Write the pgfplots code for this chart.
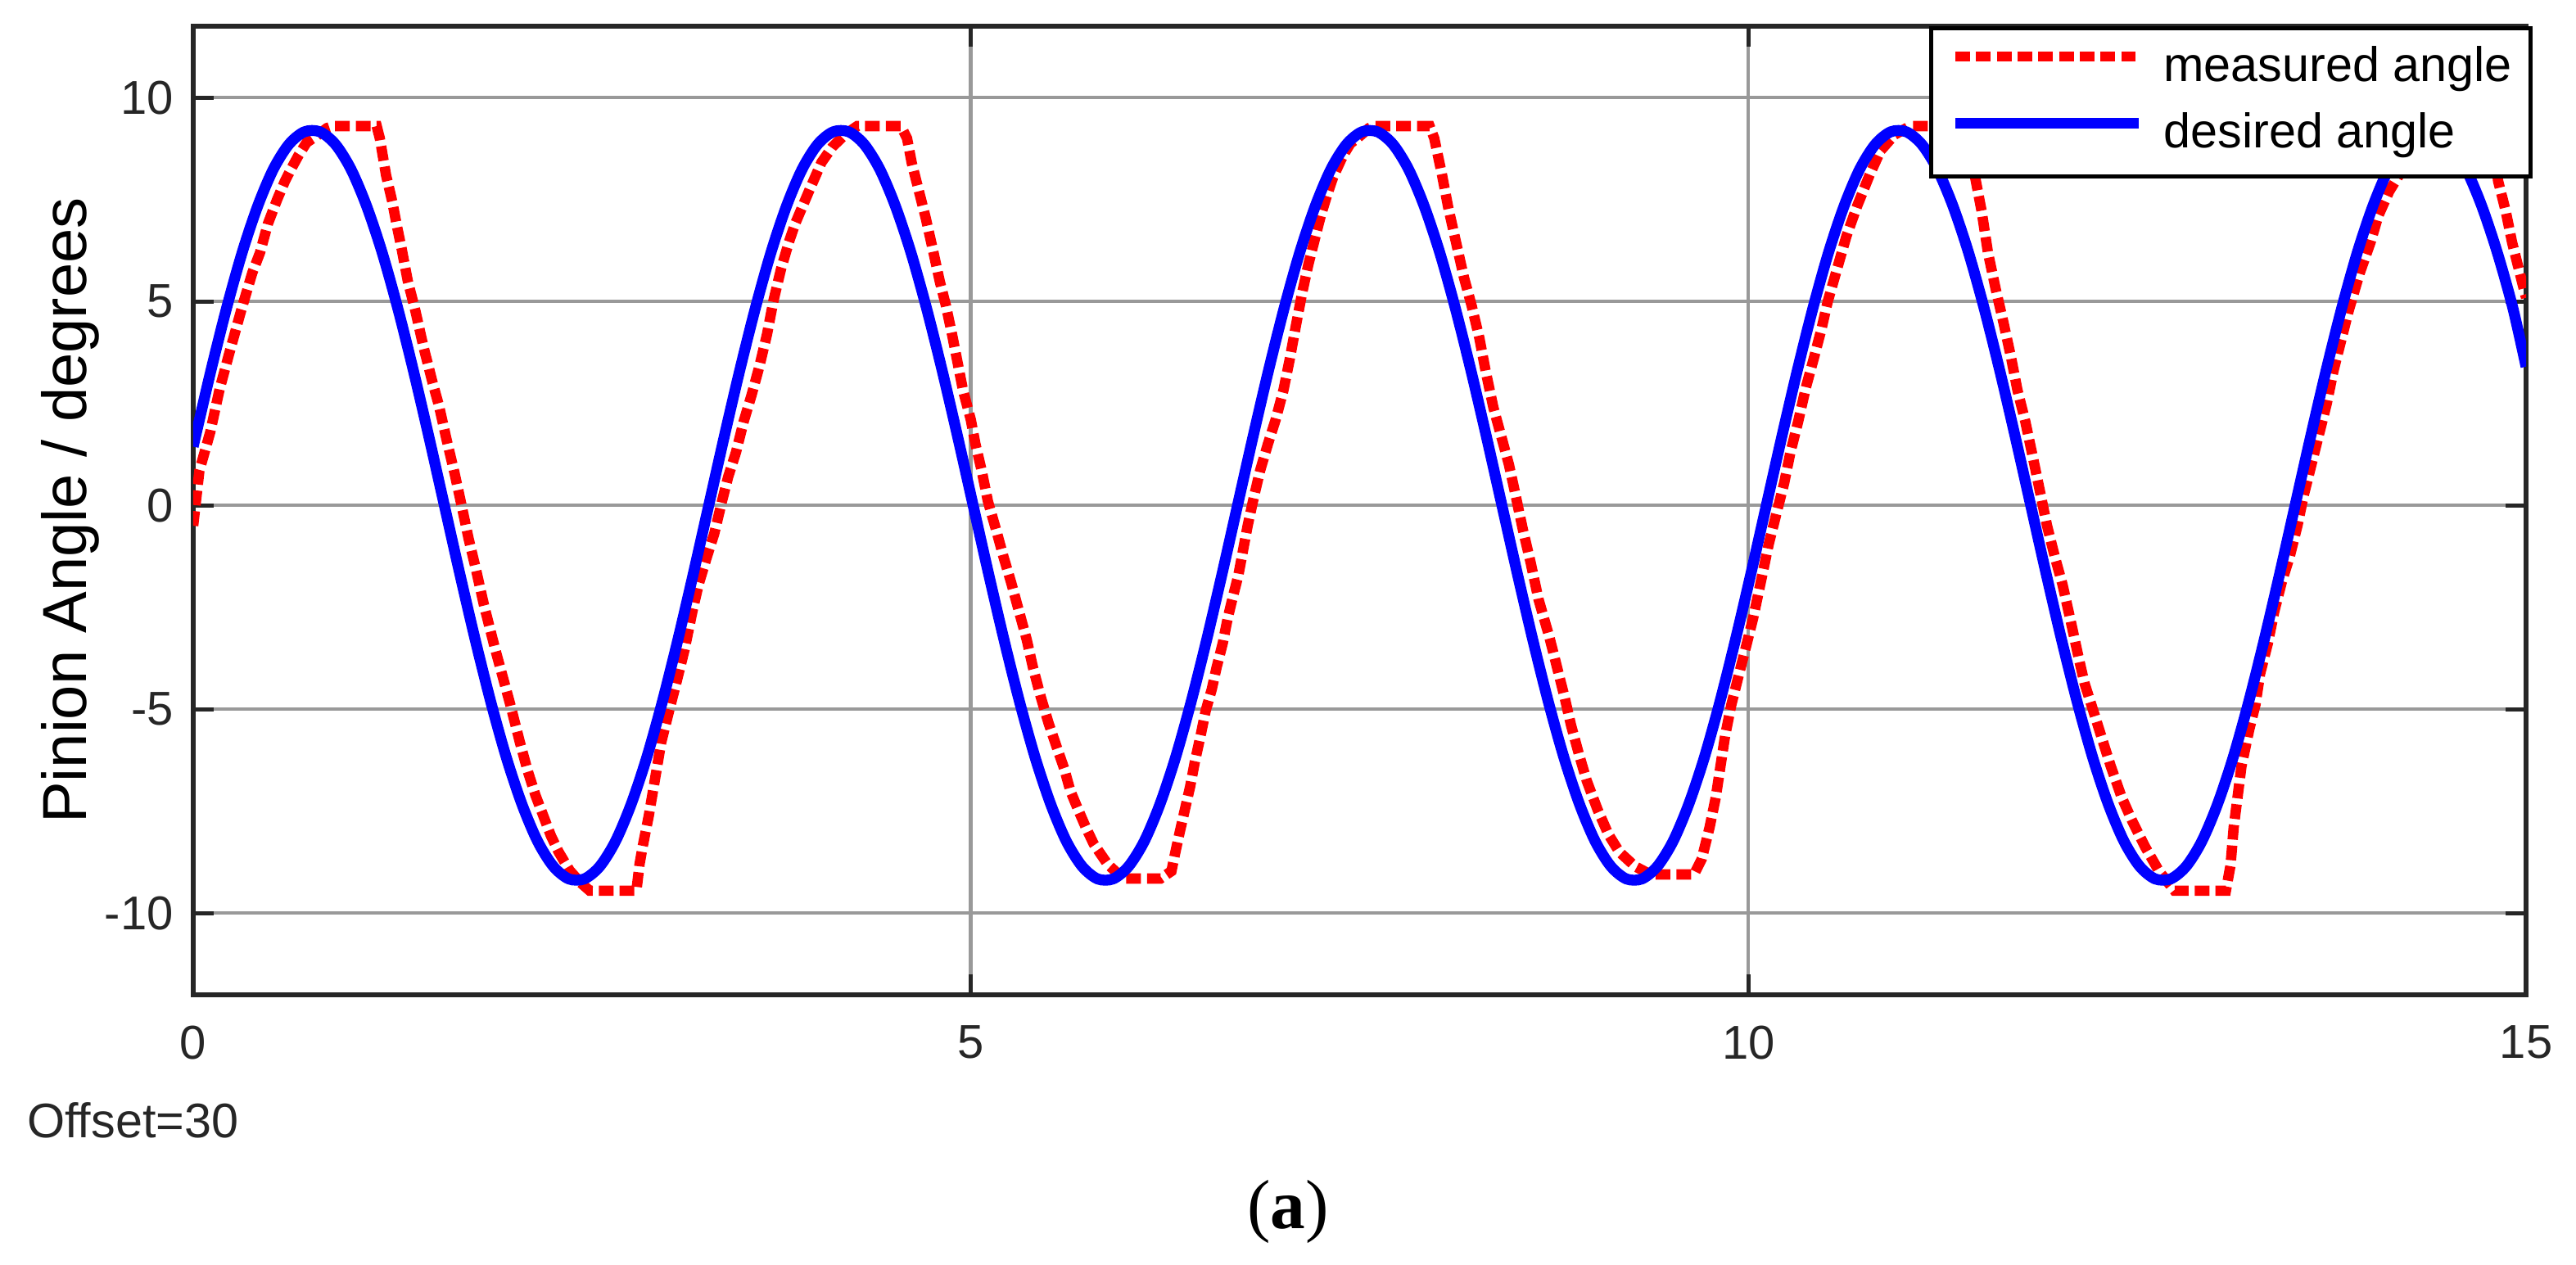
\documentclass[border=0pt]{standalone}
\usepackage{fontspec}
\setmainfont{Liberation Sans}
\newfontfamily\seriffont{Liberation Serif}
\usepackage{pgfplots}
\pgfplotsset{compat=1.18}
\definecolor{gridgray}{RGB}{153,153,153}
\definecolor{axdark}{RGB}{38,38,38}
\definecolor{mred}{RGB}{255,0,0}
\definecolor{mblue}{RGB}{0,0,255}
\begin{document}
\begin{tikzpicture}
\useasboundingbox (-35.4pt,-49.4pt) rectangle (436.65pt,182.3pt);
\begin{axis}[
  at={(0pt,0pt)}, anchor=south west,
  scale only axis, width=427.5pt, height=177.5pt,
  xmin=0, xmax=15, ymin=-12, ymax=11.75,
  xtick={0,5,10,15}, xticklabels={0,5,10,15},
  ytick={-10,-5,0,5,10}, yticklabels={-10,-5,0,5,10},
  xtick pos=both, ytick pos=both,
  xticklabel pos=lower, yticklabel pos=left,
  tick align=inside, major tick length=3.75pt,
  grid=major,
  major grid style={color=gridgray, line width=0.65pt},
  axis line style={color=axdark, line width=0.9pt},
  tick style={color=axdark, line width=0.75pt},
  tick label style={font=\fontsize{8.7}{10}\selectfont, text=axdark, inner sep=0pt},
  xticklabel style={yshift=-5.5pt},
  yticklabel style={xshift=-3.45pt},
  ylabel={Pinion Angle / degrees},
  every axis y label/.style={at={(axis description cs:-0.0526,0.5)}, rotate=90, anchor=center, font=\fontsize{11.4}{13}\selectfont, inner sep=0pt},
  legend cell align=left,
  legend style={at={(1,1)}, anchor=north east, xshift=1.2pt,
    draw=black, line width=0.75pt, fill=white,
    inner xsep=3.4pt, inner ysep=3.3pt,
    font=\fontsize{8.9}{10}\selectfont,
    row sep=3.9pt,
    nodes={inner sep=0pt, text height=6.4pt, text depth=1.9pt},
    /tikz/every odd column/.append style={column sep=3.6pt}},
  legend image code/.code={\draw[#1] (0pt,2.25pt) -- (33.6pt,2.25pt);},
]
\addplot[mred, line width=1.9pt, dash pattern=on 2.7pt off 1.1pt] coordinates {
(0.00,-0.5) (0.04,0.85) (0.11,1.8) (0.17,2.85) (0.23,3.7) (0.31,4.8) (0.38,5.7) (0.43,6.2) (0.48,6.9) (0.54,7.5) (0.59,7.95) (0.63,8.25) (0.68,8.6) (0.73,8.9) (0.79,9.05) (0.86,9.25) (0.90,9.3) (1.18,9.3)
(1.20,9.0) (1.22,8.55) (1.24,8.1) (1.28,7.45) (1.31,6.85) (1.34,6.3) (1.38,5.5) (1.43,4.75) (1.48,3.9) (1.54,3.0) (1.58,2.45) (1.63,1.6) (1.68,0.8) (1.72,0.1) (1.77,-0.8) (1.82,-1.6) (1.87,-2.45) (1.94,-3.5) (1.99,-4.2) (2.04,-4.9) (2.10,-5.8) (2.15,-6.5) (2.20,-7.1) (2.25,-7.6) (2.30,-8.1) (2.35,-8.5) (2.42,-8.95) (2.49,-9.25) (2.55,-9.45) (2.85,-9.45)
(2.87,-8.8) (2.89,-8.37) (2.93,-7.6) (2.97,-6.7) (3.01,-5.8) (3.06,-5.04) (3.11,-4.3) (3.16,-3.53) (3.21,-2.6) (3.25,-1.94) (3.30,-1.3) (3.35,-0.7) (3.40,0.1) (3.44,0.7) (3.49,1.3) (3.54,2.06) (3.59,2.7) (3.64,3.4) (3.69,4.2) (3.73,5.0) (3.78,5.8) (3.83,6.45) (3.87,6.9) (3.92,7.35) (3.97,7.8) (4.04,8.41) (4.11,8.79) (4.19,9.09) (4.27,9.3) (4.55,9.3)
(4.59,9.0) (4.62,8.4) (4.66,7.8) (4.71,7.05) (4.76,6.2) (4.80,5.5) (4.84,4.9) (4.88,4.18) (4.91,3.6) (4.95,2.82) (5.00,2.1) (5.03,1.5) (5.07,0.85) (5.11,0.1) (5.17,-0.7) (5.21,-1.26) (5.26,-1.9) (5.31,-2.6) (5.36,-3.3) (5.40,-3.98) (5.45,-4.7) (5.50,-5.34) (5.55,-5.9) (5.60,-6.45) (5.64,-7.0) (5.69,-7.46) (5.74,-7.9) (5.79,-8.3) (5.88,-8.8) (5.98,-9.15) (6.22,-9.15)
(6.29,-8.97) (6.31,-8.6) (6.34,-8.07) (6.38,-7.4) (6.41,-6.9) (6.44,-6.3) (6.48,-5.6) (6.51,-5.04) (6.55,-4.5) (6.58,-3.98) (6.62,-3.38) (6.65,-2.8) (6.68,-2.32) (6.72,-1.72) (6.75,-1.11) (6.78,-0.5) (6.82,0.2) (6.86,0.85) (6.91,1.5) (6.96,2.1) (7.01,2.82) (7.05,3.57) (7.09,4.4) (7.13,5.2) (7.17,5.9) (7.21,6.5) (7.25,7.1) (7.29,7.6) (7.33,8.05) (7.39,8.55) (7.44,8.87) (7.50,9.05) (7.56,9.25) (7.60,9.3) (7.95,9.3)
(7.98,9.0) (8.03,8.1) (8.07,7.3) (8.12,6.45) (8.17,5.6) (8.22,4.9) (8.27,4.1) (8.31,3.3) (8.36,2.4) (8.41,1.7) (8.46,1.0) (8.50,0.3) (8.55,-0.6) (8.60,-1.41) (8.65,-2.3) (8.72,-3.23) (8.77,-3.98) (8.82,-4.74) (8.86,-5.4) (8.91,-6.1) (8.96,-6.75) (9.03,-7.46) (9.10,-8.07) (9.17,-8.5) (9.27,-8.85) (9.37,-9.05) (9.65,-9.05)
(9.70,-8.67) (9.75,-7.9) (9.79,-7.16) (9.82,-6.4) (9.85,-5.65) (9.89,-4.89) (9.94,-4.13) (9.99,-3.38) (10.03,-2.77) (10.08,-1.87) (10.13,-0.96) (10.18,-0.2) (10.23,0.55) (10.27,1.3) (10.32,2.06) (10.37,2.9) (10.42,3.6) (10.47,4.33) (10.51,5.0) (10.57,5.8) (10.63,6.6) (10.70,7.35) (10.78,8.11) (10.85,8.7) (10.94,9.09) (11.04,9.3) (11.40,9.3)
(11.43,8.6) (11.47,7.8) (11.50,7.2) (11.54,6.2) (11.59,5.3) (11.64,4.48) (11.69,3.6) (11.73,2.82) (11.78,2.06) (11.83,1.16) (11.88,0.24) (11.92,-0.5) (11.97,-1.26) (12.02,-1.95) (12.07,-2.8) (12.12,-3.68) (12.16,-4.35) (12.23,-5.19) (12.28,-5.8) (12.33,-6.4) (12.40,-7.16) (12.47,-7.76) (12.55,-8.37) (12.64,-8.97) (12.74,-9.45) (13.07,-9.45)
(13.10,-8.82) (13.12,-7.9) (13.14,-7.3) (13.17,-6.4) (13.22,-5.5) (13.26,-4.89) (13.29,-4.13) (13.34,-3.38) (13.38,-2.62) (13.43,-1.87) (13.48,-1.26) (13.53,-0.5) (13.57,0.24) (13.62,1.0) (13.67,1.76) (13.72,2.52) (13.76,3.27) (13.81,4.03) (13.86,4.78) (13.93,5.69) (14.00,6.45) (14.05,7.1) (14.12,7.7) (14.20,8.2) (14.30,8.75) (14.40,9.1) (14.46,9.3) (14.78,9.3)
(14.80,8.7) (14.82,7.96) (14.87,7.2) (14.91,6.45) (14.96,5.69) (15.00,5.09)
};
\addlegendentry{measured angle}
\addplot[mblue, line width=2pt, smooth] coordinates {
(0,1.44) (0.015,1.69) (0.115,3.32) (0.215,4.84) (0.315,6.20) (0.415,7.34) (0.515,8.24) (0.615,8.85) (0.715,9.16) (0.815,9.16) (0.915,8.85) (1.015,8.24) (1.115,7.34) (1.215,6.20) (1.315,4.84) (1.415,3.32) (1.515,1.69) (1.615,0)
(1.715,-1.69) (1.815,-3.32) (1.915,-4.84) (2.015,-6.20) (2.115,-7.34) (2.215,-8.24) (2.315,-8.85) (2.415,-9.16) (2.515,-9.16) (2.615,-8.85) (2.715,-8.24) (2.815,-7.34) (2.915,-6.20) (3.015,-4.84) (3.115,-3.32) (3.215,-1.69) (3.315,0)
(3.415,1.69) (3.515,3.32) (3.615,4.84) (3.715,6.20) (3.815,7.34) (3.915,8.24) (4.015,8.85) (4.115,9.16) (4.215,9.16) (4.315,8.85) (4.415,8.24) (4.515,7.34) (4.615,6.20) (4.715,4.84) (4.815,3.32) (4.915,1.69) (5.015,0)
(5.115,-1.69) (5.215,-3.32) (5.315,-4.84) (5.415,-6.20) (5.515,-7.34) (5.615,-8.24) (5.715,-8.85) (5.815,-9.16) (5.915,-9.16) (6.015,-8.85) (6.115,-8.24) (6.215,-7.34) (6.315,-6.20) (6.415,-4.84) (6.515,-3.32) (6.615,-1.69) (6.715,0)
(6.815,1.69) (6.915,3.32) (7.015,4.84) (7.115,6.20) (7.215,7.34) (7.315,8.24) (7.415,8.85) (7.515,9.16) (7.615,9.16) (7.715,8.85) (7.815,8.24) (7.915,7.34) (8.015,6.20) (8.115,4.84) (8.215,3.32) (8.315,1.69) (8.415,0)
(8.515,-1.69) (8.615,-3.32) (8.715,-4.84) (8.815,-6.20) (8.915,-7.34) (9.015,-8.24) (9.115,-8.85) (9.215,-9.16) (9.315,-9.16) (9.415,-8.85) (9.515,-8.24) (9.615,-7.34) (9.715,-6.20) (9.815,-4.84) (9.915,-3.32) (10.015,-1.69) (10.115,0)
(10.215,1.69) (10.315,3.32) (10.415,4.84) (10.515,6.20) (10.615,7.34) (10.715,8.24) (10.815,8.85) (10.915,9.16) (11.015,9.16) (11.115,8.85) (11.215,8.24) (11.315,7.34) (11.415,6.20) (11.515,4.84) (11.615,3.32) (11.715,1.69) (11.815,0)
(11.915,-1.69) (12.015,-3.32) (12.115,-4.84) (12.215,-6.20) (12.315,-7.34) (12.415,-8.24) (12.515,-8.85) (12.615,-9.16) (12.715,-9.16) (12.815,-8.85) (12.915,-8.24) (13.015,-7.34) (13.115,-6.20) (13.215,-4.84) (13.315,-3.32) (13.415,-1.69) (13.515,0)
(13.615,1.69) (13.715,3.32) (13.815,4.84) (13.915,6.20) (14.015,7.34) (14.115,8.24) (14.215,8.85) (14.315,9.16) (14.415,9.16) (14.515,8.85) (14.615,8.24) (14.715,7.34) (14.815,6.20) (14.915,4.84) (15,3.4)
};
\addlegendentry{desired angle}
\end{axis}
\node[anchor=west, inner sep=0pt, font=\fontsize{8.9}{10}\selectfont, text=axdark] at (-30.6pt,-22.96pt) {Offset=30};
\node[anchor=center, inner sep=0pt, font=\seriffont\fontsize{12.8}{14}\selectfont] at (200.6pt,-39.8pt) {(\textbf{a})};
\end{tikzpicture}
\end{document}
